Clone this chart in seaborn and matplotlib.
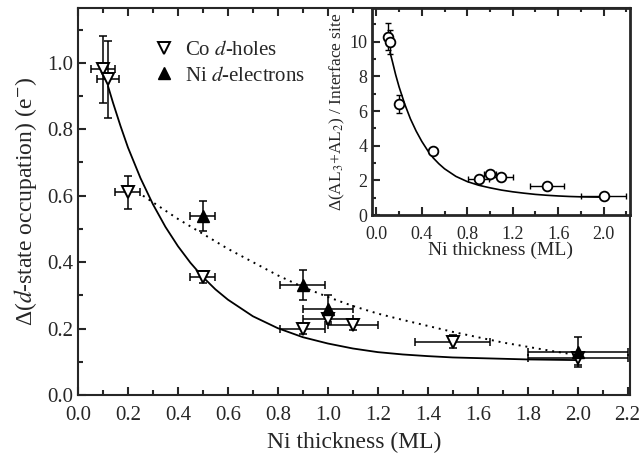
import numpy as np
import pandas as pd
import matplotlib
matplotlib.use("Agg")
import matplotlib.pyplot as plt
from matplotlib.ticker import MultipleLocator
import seaborn as sns

# Co d-holes (open down triangles)
co_x = [0.1, 0.12, 0.2, 0.5, 0.9, 1.0, 1.1, 1.5, 2.0]
co_y = [0.98, 0.95, 0.61, 0.355, 0.20, 0.23, 0.21, 0.16, 0.11]
co_xerr = [0.05, 0.045, 0.05, 0.05, 0.09, 0.1, 0.1, 0.15, 0.2]
co_yerr = [0.10, 0.115, 0.05, 0.018, 0.015, 0.015, 0.015, 0.02, 0.02]

# Ni d-electrons (filled up triangles)
ni_x = [0.5, 0.9, 1.0, 2.0]
ni_y = [0.54, 0.33, 0.26, 0.13]
ni_xerr = [0.05, 0.09, 0.1, 0.2]
ni_yerr = [0.045, 0.045, 0.04, 0.045]

# curves
solid_x = [0.12, 0.14, 0.17, 0.2, 0.25, 0.3, 0.35, 0.4, 0.45, 0.5, 0.55, 0.6, 0.7, 0.8, 0.9,
           1.0, 1.1, 1.2, 1.3, 1.4, 1.5, 1.6, 1.7, 1.8, 1.9, 2.0]
solid_y = [0.93, 0.88, 0.81, 0.745, 0.653, 0.574, 0.506, 0.448, 0.398, 0.355, 0.318, 0.287,
           0.237, 0.201, 0.174, 0.155, 0.140, 0.129, 0.122, 0.117, 0.113, 0.111, 0.109, 0.107,
           0.106, 0.105]
dot_x = [0.26, 0.3, 0.4, 0.5, 0.6, 0.7, 0.8, 0.9, 1.0, 1.1, 1.2, 1.3, 1.4, 1.5, 1.6, 1.7, 1.8, 1.9, 2.0]
dot_y = [0.60, 0.58, 0.53, 0.485, 0.44, 0.40, 0.36, 0.325, 0.295, 0.268, 0.245, 0.226, 0.208,
         0.19, 0.174, 0.158, 0.145, 0.132, 0.12]

# inset: AL3+AL2 per interface site
in_x = [0.1, 0.12, 0.2, 0.5, 0.9, 1.0, 1.1, 1.5, 2.0]
in_y = [10.3, 10.0, 6.4, 3.7, 2.08, 2.35, 2.2, 1.68, 1.1]
in_xerr = [0.02, 0.03, 0.03, 0.03, 0.09, 0.05, 0.1, 0.15, 0.2]
in_yerr = [0.8, 0.7, 0.5, 0.1, 0.1, 0.1, 0.1, 0.1, 0.1]
in_fit_x = [0.12, 0.14, 0.17, 0.2, 0.25, 0.3, 0.35, 0.4, 0.45, 0.5, 0.55, 0.6, 0.7, 0.8, 0.9,
            1.0, 1.1, 1.2, 1.3, 1.4, 1.5, 1.6, 1.7, 1.8, 1.9, 2.0]
in_fit_y = [9.4, 8.9, 8.1, 7.4, 6.4, 5.55, 4.85, 4.25, 3.74, 3.3, 2.96, 2.67, 2.23, 1.93, 1.72,
            1.57, 1.44, 1.34, 1.26, 1.19, 1.14, 1.1, 1.07, 1.05, 1.04, 1.03]

sns.set_style("ticks")
plt.rcParams["font.family"] = ["Liberation Serif", "DejaVu Serif"]
plt.rcParams["mathtext.fontset"] = "stix"
plt.rcParams["axes.linewidth"] = 1.5

fig = plt.figure(figsize=(6.41, 4.57), dpi=100)
ax = fig.add_axes([0.1217, 0.1357, 0.8613, 0.8468])

sns.lineplot(x=solid_x, y=solid_y, ax=ax, color="black", lw=1.3)
sns.lineplot(x=dot_x, y=dot_y, ax=ax, color="black", lw=1.4, linestyle=(0, (1, 2.5)))

ax.errorbar(co_x, co_y, xerr=co_xerr, yerr=co_yerr, fmt="none", ecolor="black",
            elinewidth=1.1, capsize=3, capthick=1.1)
ax.errorbar(ni_x, ni_y, xerr=ni_xerr, yerr=ni_yerr, fmt="none", ecolor="black",
            elinewidth=1.1, capsize=3, capthick=1.1)
ax.plot(co_x, co_y, "v", ms=9, mfc="white", mec="black", mew=1.4, ls="none",
        label="Co $d$-holes")
ax.plot(ni_x, ni_y, "^", ms=9, mfc="black", mec="black", ls="none",
        label="Ni $d$-electrons")

ax.set_xlim(0, 2.21)
ax.set_ylim(0, 1.165)
ax.xaxis.set_major_locator(MultipleLocator(0.2))
ax.xaxis.set_minor_locator(MultipleLocator(0.1))
ax.yaxis.set_major_locator(MultipleLocator(0.2))
ax.yaxis.set_minor_locator(MultipleLocator(0.1))
ax.xaxis.set_major_formatter(lambda v, p: f"{v:.1f}")
ax.yaxis.set_major_formatter(lambda v, p: f"{v:.1f}")
ax.tick_params(which="both", direction="in", top=True, right=False, width=1.5, labelsize=15)
ax.tick_params(which="major", length=6)
ax.tick_params(which="minor", length=3.5)
ax.tick_params(axis="x", pad=8)
ax.set_xlabel("Ni thickness (ML)", fontsize=17, labelpad=5)
ax.set_ylabel("Δ($d$-state occupation) (e$^{-}$)", fontsize=17, labelpad=6)
ax.legend(loc="upper left", bbox_to_anchor=(0.1, 0.965), frameon=False, fontsize=15,
          handletextpad=0.4, labelspacing=0.3, handlelength=1.2)

# inset
ins = fig.add_axes([0.580, 0.5295, 0.4025, 0.453])
ins.set_facecolor("white")
sns.lineplot(x=in_fit_x, y=in_fit_y, ax=ins, color="black", lw=1.2)
ins.errorbar(in_x, in_y, xerr=in_xerr, yerr=in_yerr, fmt="none", ecolor="black",
             elinewidth=1.0, capsize=2.5, capthick=1.0)
ins.plot(in_x, in_y, "o", ms=7, mfc="white", mec="black", mew=1.3, ls="none")
ins.set_xlim(-0.04, 2.23)
ins.set_ylim(0, 11.95)
ins.xaxis.set_major_locator(MultipleLocator(0.4))
ins.xaxis.set_minor_locator(MultipleLocator(0.2))
ins.yaxis.set_major_locator(MultipleLocator(2))
ins.yaxis.set_minor_locator(MultipleLocator(1))
ins.xaxis.set_major_formatter(lambda v, p: f"{v:.1f}")
ins.tick_params(which="both", direction="in", top=True, right=False, width=1.5, labelsize=13, pad=3)
ins.tick_params(axis="x", pad=8)
ins.tick_params(which="major", length=5.5)
ins.tick_params(which="minor", length=3)
for s in ins.spines.values():
    s.set_linewidth(2)
ins.set_xlabel("Ni thickness (ML)", fontsize=14, labelpad=-1)
ins.set_ylabel("Δ(AL$_3$+AL$_2$) / Interface site", fontsize=12.5, labelpad=2)

fig.savefig("out.png", dpi=100)
